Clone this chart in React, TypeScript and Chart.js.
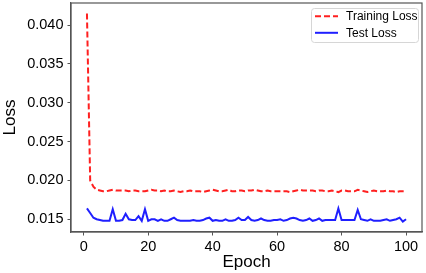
import React, { useEffect, useRef } from "react";
import { Chart, registerables } from "chart.js";

Chart.register(...registerables);

const epochs: number[] = Array.from({ length: 100 }, (_, i) => i + 1);

const trainingLoss: number[] = [
  0.0415, 0.0200, 0.0192, 0.0188, 0.0187, 0.0186, 0.0186, 0.0187, 0.0188, 0.0187,
  0.0187, 0.0187, 0.0187, 0.0186, 0.0187, 0.0187, 0.0186, 0.0186, 0.0186, 0.0187,
  0.0188, 0.0187, 0.0187, 0.0186, 0.0187, 0.0186, 0.0186, 0.0187, 0.0186, 0.0185,
  0.0186, 0.0186, 0.0187, 0.0186, 0.0186, 0.0186, 0.0185, 0.0186, 0.0187, 0.0188,
  0.0187, 0.0186, 0.0186, 0.0187, 0.0188, 0.0186, 0.0186, 0.0187, 0.0187, 0.0186,
  0.0187, 0.0187, 0.0188, 0.0187, 0.0186, 0.0186, 0.0187, 0.0186, 0.0186, 0.0186,
  0.0186, 0.0186, 0.0186, 0.0185, 0.0186, 0.0187, 0.0188, 0.0187, 0.0187, 0.0187,
  0.0187, 0.0186, 0.0187, 0.0187, 0.0186, 0.0186, 0.0187, 0.0186, 0.0185, 0.0187,
  0.0187, 0.0186, 0.0186, 0.0186, 0.0188, 0.0187, 0.0186, 0.0185, 0.0186, 0.0187,
  0.0186, 0.0186, 0.0186, 0.0187, 0.0186, 0.0186, 0.0185, 0.0186, 0.0186, 0.0186,
];

const testLoss: number[] = [
  0.0164, 0.0158, 0.0152, 0.0150, 0.0149, 0.0148, 0.0148, 0.0148, 0.0163, 0.0148,
  0.0148, 0.0149, 0.0157, 0.0150, 0.0149, 0.0149, 0.0154, 0.0148, 0.0163, 0.0148,
  0.0150, 0.0150, 0.0148, 0.0150, 0.0148, 0.0148, 0.0150, 0.0152, 0.0149, 0.0148,
  0.0148, 0.0148, 0.0148, 0.0149, 0.0148, 0.0148, 0.0149, 0.0151, 0.0152, 0.0148,
  0.0149, 0.0148, 0.0148, 0.0150, 0.0148, 0.0148, 0.0149, 0.0152, 0.0149, 0.0149,
  0.0153, 0.0149, 0.0148, 0.0149, 0.0151, 0.0149, 0.0148, 0.0148, 0.0149, 0.0149,
  0.0150, 0.0148, 0.0149, 0.0151, 0.0152, 0.0151, 0.0149, 0.0148, 0.0149, 0.0151,
  0.0148, 0.0149, 0.0151, 0.0148, 0.0149, 0.0149, 0.0149, 0.0149, 0.0164, 0.0149,
  0.0149, 0.0149, 0.0149, 0.0149, 0.0162, 0.0150, 0.0149, 0.0148, 0.0150, 0.0148,
  0.0148, 0.0148, 0.0149, 0.0150, 0.0148, 0.0149, 0.0150, 0.0152, 0.0147, 0.0150,
];

const xTicks: number[] = [0, 20, 40, 60, 80, 100];
const yTicks: number[] = [0.015, 0.02, 0.025, 0.03, 0.035, 0.04];
const seriesLabels: string[] = ["Training Loss", "Test Loss"];

const FONT = "'Liberation Sans', Arial, sans-serif";
const RED = "#ff2020";
const BLUE = "#1f1fff";
const SPINE = "#555555";

const framePlugin = {
  id: "frame",
  afterDatasetsDraw(chart: any) {
    const { ctx, chartArea } = chart;
    ctx.save();
    ctx.strokeStyle = SPINE;
    ctx.lineWidth = 1.2;
    ctx.strokeRect(chartArea.left, chartArea.top, chartArea.right - chartArea.left, chartArea.bottom - chartArea.top);
    ctx.restore();
  },
};

const legendPlugin = {
  id: "insideLegend",
  afterDraw(chart: any) {
    const { ctx } = chart;
    const x0 = 311.5, y0 = 8.5, w = 107, h = 34;
    ctx.save();
    ctx.beginPath();
    const r = 3;
    ctx.moveTo(x0 + r, y0);
    ctx.lineTo(x0 + w - r, y0);
    ctx.quadraticCurveTo(x0 + w, y0, x0 + w, y0 + r);
    ctx.lineTo(x0 + w, y0 + h - r);
    ctx.quadraticCurveTo(x0 + w, y0 + h, x0 + w - r, y0 + h);
    ctx.lineTo(x0 + r, y0 + h);
    ctx.quadraticCurveTo(x0, y0 + h, x0, y0 + h - r);
    ctx.lineTo(x0, y0 + r);
    ctx.quadraticCurveTo(x0, y0, x0 + r, y0);
    ctx.closePath();
    ctx.fillStyle = "rgba(255,255,255,0.85)";
    ctx.fill();
    ctx.strokeStyle = "#d6d6d6";
    ctx.lineWidth = 1;
    ctx.stroke();
    const rows = [16.3, 32.8];
    chart.data.datasets.forEach((ds: any, i: number) => {
      const y = rows[i];
      ctx.beginPath();
      ctx.setLineDash(ds.borderDash || []);
      ctx.strokeStyle = ds.borderColor;
      ctx.lineWidth = ds.borderWidth;
      ctx.moveTo(315, y);
      ctx.lineTo(338, y);
      ctx.stroke();
      ctx.setLineDash([]);
      ctx.fillStyle = "#000";
      ctx.font = `12px ${FONT}`;
      ctx.textBaseline = "middle";
      ctx.textAlign = "left";
      ctx.fillText(ds.label, 346, y + 0.5);
    });
    ctx.restore();
  },
};

export default function App() {
  const ref = useRef<HTMLCanvasElement | null>(null);
  useEffect(() => {
    document.body.style.margin = "0";
    if (!ref.current) return;
    const chart = new Chart(ref.current, {
      type: "line",
      data: {
        datasets: [
          {
            label: seriesLabels[0],
            data: epochs.map((e, i) => ({ x: e, y: trainingLoss[i] })),
            borderColor: RED,
            borderWidth: 2,
            borderDash: [6, 3],
            pointRadius: 0,
            fill: false,
            tension: 0,
          },
          {
            label: seriesLabels[1],
            data: epochs.map((e, i) => ({ x: e, y: testLoss[i] })),
            borderColor: BLUE,
            borderWidth: 2,
            pointRadius: 0,
            fill: false,
            tension: 0,
          },
        ],
      },
      options: {
        animation: false,
        responsive: false,
        devicePixelRatio: 1,
        layout: { padding: { top: 3, right: 4, left: 0, bottom: 0 } },
        plugins: { legend: { display: false }, tooltip: { enabled: false } },
        scales: {
          x: {
            type: "linear",
            min: -3.95,
            max: 104.95,
            afterBuildTicks: (scale: any) => {
              scale.ticks = xTicks.map((v) => ({ value: v }));
            },
            afterFit: (scale: any) => {
              scale.height = 41;
              scale.paddingLeft = 0;
              scale.paddingRight = 0;
            },
            grid: {
              display: true,
              drawOnChartArea: false,
              drawTicks: true,
              tickLength: 3.5,
              color: SPINE,
              lineWidth: 1,
            },
            border: { display: true, color: SPINE, width: 1.2 },
            ticks: {
              color: "#000",
              font: { family: FONT, size: 14.5 },
              padding: 3,
              maxRotation: 0,
              callback: (v: any) => String(v),
            },
            title: {
              display: true,
              text: "Epoch",
              color: "#000",
              font: { family: FONT, size: 17 },
              padding: { top: 0, bottom: 0 },
            },
          },
          y: {
            type: "linear",
            min: 0.01336,
            max: 0.04284,
            afterBuildTicks: (scale: any) => {
              scale.ticks = yTicks.map((v) => ({ value: v }));
            },
            afterFit: (scale: any) => {
              scale.width = 71;
              scale.paddingTop = 0;
              scale.paddingBottom = 0;
            },
            grid: {
              display: true,
              drawOnChartArea: false,
              drawTicks: true,
              tickLength: 3.5,
              color: SPINE,
              lineWidth: 1,
            },
            border: { display: true, color: SPINE, width: 1.2 },
            ticks: {
              color: "#000",
              font: { family: FONT, size: 14.5 },
              padding: 4,
              callback: (v: any) => Number(v).toFixed(3),
            },
            title: {
              display: true,
              text: "Loss",
              color: "#000",
              font: { family: FONT, size: 17 },
              padding: { top: 0, bottom: 0 },
            },
          },
        },
      },
      plugins: [framePlugin, legendPlugin],
    });
    return () => chart.destroy();
  }, []);
  return (
    <div style={{ position: "absolute", left: 0, top: 0, width: 426, height: 273, background: "#fff" }}>
      <canvas ref={ref} width={426} height={273} style={{ display: "block" }} />
    </div>
  );
}
